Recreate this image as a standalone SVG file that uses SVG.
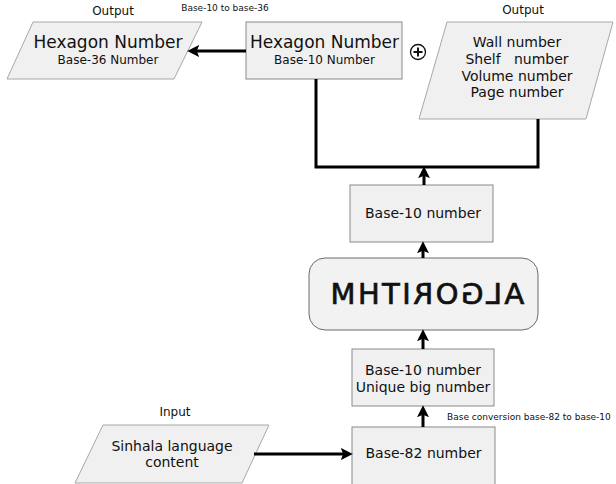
<svg xmlns="http://www.w3.org/2000/svg" width="616" height="484" viewBox="0 0 616 484">
<defs>
<style>
.box{fill:#f0f0f0;stroke:#8a8a8a;stroke-width:1}
.para{fill:#f0f0f0;stroke:#a8a8a8;stroke-width:1}
.alg{fill:#f2f2f2;stroke:#6a6a6a;stroke-width:1}
text{font-family:"DejaVu Sans",Verdana,sans-serif;fill:#111}
.t17{font-size:17px;text-anchor:middle}
.t14{font-size:14px;text-anchor:middle}
.t12{font-size:12px;text-anchor:middle}
.t9{font-size:9px}
.conn{fill:none;stroke:#000;stroke-width:3}
</style>
<marker id="ah" markerUnits="userSpaceOnUse" markerWidth="12" markerHeight="12" refX="6" refY="5" orient="auto" viewBox="0 0 10 10">
<path d="M0,0 L10,5 L0,10 L2,5 z" fill="#000"/>
</marker>
</defs>
<g id="n-hex36">
<polygon class="para" points="33,22 202,22 174,79 7,79"/>
<text class="t17" x="108" y="48">Hexagon Number</text>
<text class="t12" x="108" y="64">Base-36 Number</text>
</g>
<text class="t12" x="113" y="15">Output</text>
<text class="t9" x="225" y="11" text-anchor="middle">Base-10 to base-36</text>
<g id="n-hex10">
<rect class="box" x="246" y="22" width="156" height="57"/>
<text class="t17" x="324.5" y="48">Hexagon Number</text>
<text class="t12" x="324.5" y="64">Base-10 Number</text>
</g>
<g id="n-plus">
<circle cx="418" cy="52" r="7.5" fill="none" stroke="#111" stroke-width="1.3"/>
<path d="M413.5,52 H422.5 M418,47.5 V56.5" stroke="#111" stroke-width="2"/>
</g>
<text class="t12" x="523" y="14">Output</text>
<g id="n-wall">
<polygon class="para" points="447,22 613,22 586,119 419,119"/>
<text class="t14" x="517" y="47">Wall number</text>
<text class="t14" x="517" y="64" xml:space="preserve">Shelf   number</text>
<text class="t14" x="517" y="81">Volume number</text>
<text class="t14" x="517" y="97">Page number</text>
</g>
<g id="n-base10">
<rect class="box" x="350" y="185" width="143" height="57"/>
<text class="t14" x="423" y="218">Base-10 number</text>
</g>
<g id="n-algorithm">
<rect class="alg" x="309" y="258" width="229" height="72" rx="16" ry="16"/>
<text transform="translate(426.2,304) scale(-1,1)" style="font-size:29px;letter-spacing:2.4px;text-anchor:middle;stroke:#111;stroke-width:0.7">ALGORITHM</text>
</g>
<g id="n-unique">
<rect class="box" x="352" y="349" width="142" height="57"/>
<text class="t14" x="423" y="375">Base-10 number</text>
<text class="t14" x="423" y="392">Unique big number</text>
</g>
<text class="t9" x="447" y="420">Base conversion base-82 to base-10</text>
<g id="n-base82">
<rect class="box" x="352" y="427" width="143" height="62"/>
<text class="t14" x="423.5" y="458">Base-82 number</text>
</g>
<text class="t12" x="175" y="416">Input</text>
<g id="n-sinhala">
<polygon class="para" points="103,425 269,425 242,483 75,483"/>
<text class="t14" x="172" y="451">Sinhala language</text>
<text class="t14" x="172" y="467">content</text>
</g>
<g id="connectors">
<path class="conn" d="M246,51 H192" marker-end="url(#ah)"/>
<path class="conn" d="M316,79 V167 H538 V119"/>
<path class="conn" d="M424,185 V171" marker-end="url(#ah)"/>
<path class="conn" d="M423,258 V246" marker-end="url(#ah)"/>
<path class="conn" d="M423,349 V334" marker-end="url(#ah)"/>
<path class="conn" d="M423,427 V410" marker-end="url(#ah)"/>
<path class="conn" d="M254,454 H348" marker-end="url(#ah)"/>
</g>
</svg>
